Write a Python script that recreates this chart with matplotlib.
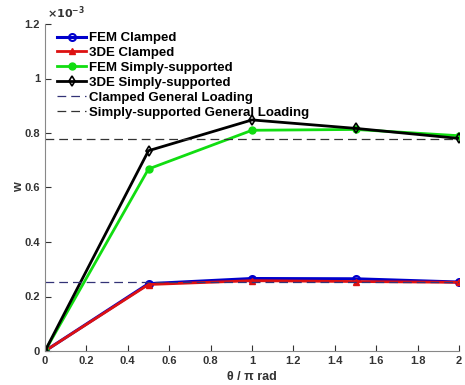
import numpy as np
import matplotlib.pyplot as plt
from matplotlib.ticker import FuncFormatter

plt.rcParams['font.family'] = ['Liberation Sans', 'DejaVu Sans']
plt.rcParams['font.weight'] = 'bold'

theta = [0, 0.5, 1, 1.5, 2]
fem_clamped = [0, 0.247e-3, 0.266e-3, 0.265e-3, 0.253e-3]
de_clamped = [0, 0.244e-3, 0.258e-3, 0.255e-3, 0.252e-3]
fem_ss = [0, 0.668e-3, 0.810e-3, 0.813e-3, 0.790e-3]
de_ss = [0, 0.735e-3, 0.848e-3, 0.817e-3, 0.780e-3]
clamped_gl = 0.253e-3
ss_gl = 0.778e-3

fig = plt.figure(figsize=(4.65, 3.85), dpi=100)
ax = fig.add_axes([45/465, 34/385, 414/465, 327/385])

ax.plot(theta, fem_clamped, color='#0000cc', marker='o', mfc='none', ms=5, mew=1.5, lw=2.2, label='FEM Clamped')
ax.plot(theta, de_clamped, color='#dd1111', marker='^', ms=5, lw=2, label='3DE Clamped')
ax.plot(theta, fem_ss, color='#11dd11', marker='o', ms=5, lw=2, label='FEM Simply-supported')
ax.plot(theta, de_ss, color='black', marker='d', mfc='none', ms=5, mew=1.2, lw=2, label='3DE Simply-supported')
ax.axhline(clamped_gl, color='#333377', ls=(0, (7, 4)), lw=0.9, label='Clamped General Loading')
ax.axhline(ss_gl, color='#333333', ls=(0, (7, 4)), lw=0.9, label='Simply-supported General Loading')

ax.set_xlim(0, 2)
ax.set_ylim(0, 1.2e-3)
ax.set_xticks(np.arange(0, 2.01, 0.2))
ax.set_xticklabels(['0', '0.2', '0.4', '0.6', '0.8', '1', '1.2', '1.4', '1.6', '1.8', '2'])
ax.set_yticks(np.arange(0, 1.21e-3, 0.2e-3))
ax.yaxis.set_major_formatter(FuncFormatter(lambda v, p: '%g' % round(v * 1e3, 3)))
ax.text(0.005, 1.01, r'$\times 10^{-3}$', transform=ax.transAxes, fontsize=8,
        color='#333333', ha='left', va='bottom')

ax.tick_params(direction='in', labelsize=8, colors='#333333', length=4)
for s in ['top', 'right']:
    ax.spines[s].set_visible(False)
for s in ['left', 'bottom']:
    ax.spines[s].set_color('#888888')

ax.set_xlabel('θ / π rad', fontsize=9, fontweight='bold', color='#333333')
ax.set_ylabel('w', fontsize=9, fontweight='bold', color='#333333')
ax.yaxis.set_label_coords(-0.048, 0.5)

ax.legend(loc='upper left', bbox_to_anchor=(0.01, 1.0), frameon=False, fontsize=9.5,
          handlelength=2.2, handletextpad=0.2, labelspacing=0.2, borderaxespad=0.2)

fig.savefig('out.png', dpi=100)
